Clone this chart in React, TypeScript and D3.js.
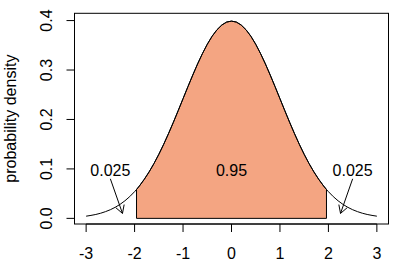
import React from "react";
import * as d3 from "d3";

const xs = [-3, -2.9, -2.8, -2.7, -2.6, -2.5, -2.4, -2.3, -2.2, -2.1, -2, -1.96, -1.9, -1.8, -1.7, -1.6, -1.5, -1.4, -1.3, -1.2, -1.1, -1, -0.9, -0.8, -0.7, -0.6, -0.5, -0.4, -0.3, -0.2, -0.1, 0, 0.1, 0.2, 0.3, 0.4, 0.5, 0.6, 0.7, 0.8, 0.9, 1, 1.1, 1.2, 1.3, 1.4, 1.5, 1.6, 1.7, 1.8, 1.9, 1.96, 2, 2.1, 2.2, 2.3, 2.4, 2.5, 2.6, 2.7, 2.8, 2.9, 3];
const densities = [0.0044, 0.006, 0.0079, 0.0104, 0.0136, 0.0175, 0.0224, 0.0283, 0.0355, 0.044, 0.054, 0.0584, 0.0656, 0.079, 0.094, 0.1109, 0.1295, 0.1497, 0.1714, 0.1942, 0.2179, 0.242, 0.2661, 0.2897, 0.3123, 0.3332, 0.3521, 0.3683, 0.3814, 0.391, 0.397, 0.3989, 0.397, 0.391, 0.3814, 0.3683, 0.3521, 0.3332, 0.3123, 0.2897, 0.2661, 0.242, 0.2179, 0.1942, 0.1714, 0.1497, 0.1295, 0.1109, 0.094, 0.079, 0.0656, 0.0584, 0.054, 0.044, 0.0355, 0.0283, 0.0224, 0.0175, 0.0136, 0.0104, 0.0079, 0.006, 0.0044];
const shadeBounds = [-1.96, 1.96];
const xTicks = [-3, -2, -1, 0, 1, 2, 3];
const yTicks = [0, 0.1, 0.2, 0.3, 0.4];
const yTickLabels = ["0.0", "0.1", "0.2", "0.3", "0.4"];
const labelTexts = ["0.025", "0.95", "0.025"];
const labelX = [-2.5, 0, 2.5];
const labelY = [0.1, 0.1, 0.1];
const arrowFrom = [[-2.5, 0.08], [2.5, 0.08]];
const arrowTo = [[-2.25, 0.01], [2.25, 0.01]];

const W = 405, H = 270;
const L = 74.5, R = 388.5, T = 13.3, B = 224;

export default function App() {
  const x = d3.scaleLinear().domain([-3.24, 3.24]).range([L, R]);
  const y = d3.scaleLinear().domain([-0.0114, 0.4147]).range([B, T]);
  const pts = xs.map((v, i) => [v, densities[i]] as [number, number]);
  const line = d3.line<[number, number]>().x(d => x(d[0])).y(d => y(d[1]));
  const inside = pts.filter(p => p[0] >= shadeBounds[0] - 1e-9 && p[0] <= shadeBounds[1] + 1e-9);
  const poly: [number, number][] = [[shadeBounds[0], 0], ...inside, [shadeBounds[1], 0]];
  const polyPath = line(poly) + "Z";
  const font = "Liberation Sans, Arial, sans-serif";
  const arrowHead = (x0: number, y0: number, x1: number, y1: number) => {
    const ang = Math.atan2(y1 - y0, x1 - x0);
    const len = 9, a = Math.PI / 6;
    const p1 = [x1 - len * Math.cos(ang - a), y1 - len * Math.sin(ang - a)];
    const p2 = [x1 - len * Math.cos(ang + a), y1 - len * Math.sin(ang + a)];
    return `M${p1[0]},${p1[1]}L${x1},${y1}L${p2[0]},${p2[1]}`;
  };
  return (
    <svg width={W} height={H} style={{ position: "absolute", left: 0, top: 0, background: "#fff" }} fontFamily={font}>
      <rect x={0} y={0} width={W} height={H} fill="#fff" />
      <path d={polyPath} fill="#F4A582" stroke="#000" strokeWidth={1} />
      <path d={line(pts) || ""} fill="none" stroke="#000" strokeWidth={1} />
      <rect x={L} y={T} width={R - L} height={B - T} fill="none" stroke="#000" strokeWidth={1} />
      {xTicks.map(t => (
        <g key={"x" + t}>
          <line x1={x(t)} x2={x(t)} y1={B} y2={B + 8} stroke="#000" />
          <text x={x(t)} y={259} fontSize={16} textAnchor="middle">{t}</text>
        </g>
      ))}
      <line x1={x(xTicks[0])} x2={x(xTicks[xTicks.length - 1])} y1={B} y2={B} stroke="#000" />
      {yTicks.map((t, i) => (
        <g key={"y" + t}>
          <line x1={L - 8} x2={L} y1={y(t)} y2={y(t)} stroke="#000" />
          <text transform={`translate(52,${y(t)}) rotate(-90)`} fontSize={16} textAnchor="middle">{yTickLabels[i]}</text>
        </g>
      ))}
      <line x1={L} x2={L} y1={y(yTicks[0])} y2={y(yTicks[yTicks.length - 1])} stroke="#000" />
      <text transform={`translate(15.5,${(T + B) / 2}) rotate(-90)`} fontSize={16} textAnchor="middle">probability density</text>
      {labelTexts.map((s, i) => (
        <text key={"l" + i} x={x(labelX[i])} y={y(labelY[i])} dy="0.42em" fontSize={16} textAnchor="middle">{s}</text>
      ))}
      {arrowFrom.map((f, i) => {
        const x0 = x(f[0]), y0 = y(f[1]), x1 = x(arrowTo[i][0]), y1 = y(arrowTo[i][1]);
        return (
          <g key={"a" + i}>
            <line x1={x0} y1={y0} x2={x1} y2={y1} stroke="#000" />
            <path d={arrowHead(x0, y0, x1, y1)} fill="none" stroke="#000" />
          </g>
        );
      })}
    </svg>
  );
}
